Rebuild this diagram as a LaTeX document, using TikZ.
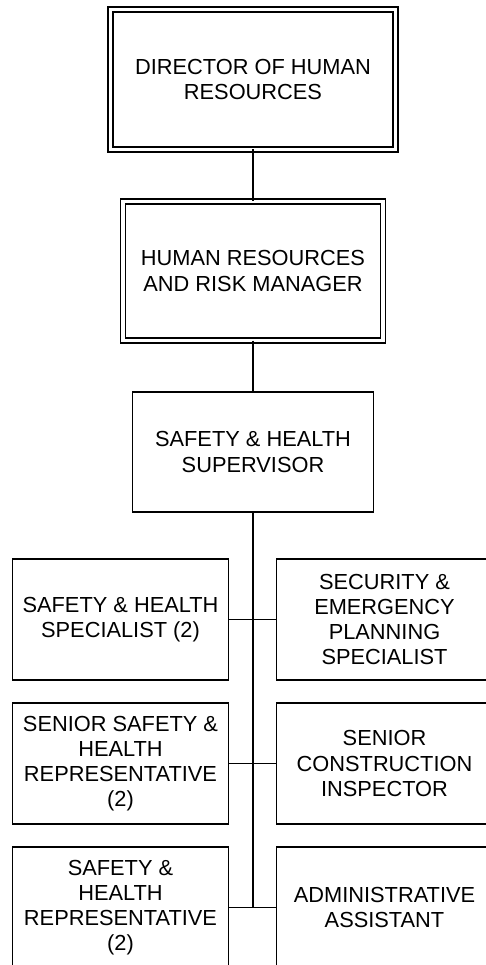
\documentclass[tikz,border=0pt]{standalone}
\usepackage{fontspec}
\setmainfont{Liberation Sans}
\usetikzlibrary{positioning}

\begin{document}
\begin{tikzpicture}[
    x=1pt, y=1pt,
    node distance=23pt and 24pt,
    every node/.style={outer sep=0pt},
    orgbox/.style={rectangle, draw=black, line width=1.4pt, align=center, inner sep=2pt, font=\fontsize{21.8}{25.2}\selectfont},
    headbox/.style={orgbox, double, double distance=3.6pt},
    staffbox/.style={orgbox, minimum width=216pt, minimum height=121pt},
    line/.style={draw=black, line width=1.4pt}
]
    \useasboundingbox (0,0) rectangle (485,-965);

    % --- CHAIN OF COMMAND ---
    \node [headbox, minimum width=285pt, minimum height=140pt] (director) at (253,-79.5) {DIRECTOR OF HUMAN\\RESOURCES};
    \node [headbox, minimum width=260pt, minimum height=139pt, below=52pt of director] (hrmanager) {HUMAN RESOURCES\\AND RISK MANAGER};
    \node [orgbox, minimum width=241pt, minimum height=120pt, below=51.5pt of hrmanager] (supervisor) {SAFETY \& HEALTH\\SUPERVISOR};

    % --- STAFF, LEFT COLUMN ---
    \node [staffbox, anchor=north east, below left=47pt and 24.5pt of supervisor.south] (specialist) {SAFETY \& HEALTH\\SPECIALIST (2)};
    \node [staffbox, below=of specialist] (seniorrep) {SENIOR SAFETY \&\\HEALTH\\REPRESENTATIVE\\(2)};
    \node [staffbox, below=of seniorrep] (rep) {SAFETY \&\\HEALTH\\REPRESENTATIVE\\(2)};

    % --- STAFF, RIGHT COLUMN ---
    \node [staffbox, anchor=north west, below right=47pt and 23.5pt of supervisor.south] (security) {SECURITY \&\\EMERGENCY\\PLANNING\\SPECIALIST};
    \node [staffbox, below=of security] (inspector) {SENIOR\\CONSTRUCTION\\INSPECTOR};
    \node [staffbox, below=of inspector] (assistant) {ADMINISTRATIVE\\ASSISTANT};

    % --- CONNECTIONS ---
    \path [line] (director) -- (hrmanager);
    \path [line] (hrmanager) -- (supervisor);
    \path [line] (supervisor.south) -- (supervisor.south |- rep.east);

    \foreach \left/\right in {specialist/security, seniorrep/inspector, rep/assistant}
        \path [line] (\left.east) -- (\right.west);

\end{tikzpicture}
\end{document}
